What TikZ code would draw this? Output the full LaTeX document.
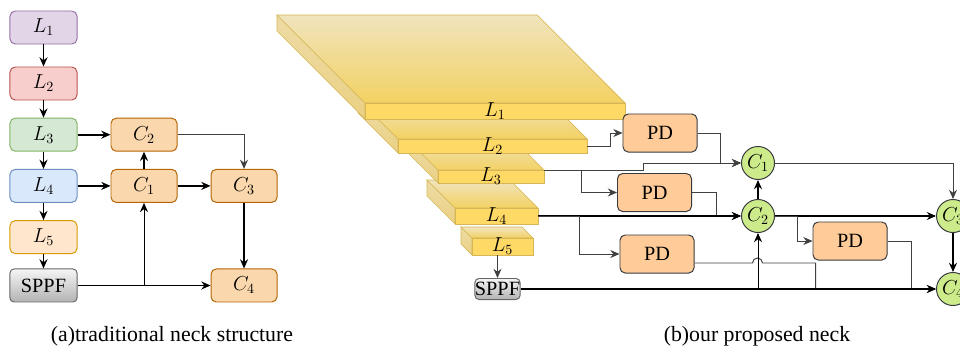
\documentclass[tikz,border=0pt]{standalone}
\usepackage[no-math]{fontspec}
\setmainfont{Liberation Serif}
\usepackage{tikz}
\usetikzlibrary{arrows.meta,positioning,calc}
\definecolor{NeckPurple}{HTML}{E1D5E7}
\definecolor{NeckPurpleLine}{HTML}{9673A6}
\definecolor{NeckRed}{HTML}{F8CECC}
\definecolor{NeckRedLine}{HTML}{B85450}
\definecolor{NeckGreen}{HTML}{D5E8D4}
\definecolor{NeckGreenLine}{HTML}{82B366}
\definecolor{NeckBlue}{HTML}{DAE8FC}
\definecolor{NeckBlueLine}{HTML}{6C8EBF}
\definecolor{NeckCream}{HTML}{FFE6CC}
\definecolor{NeckCreamLine}{HTML}{D79B00}
\definecolor{NeckOrange}{HTML}{FAD7AC}
\definecolor{NeckOrangeLine}{HTML}{B46504}
\definecolor{NeckPeach}{HTML}{FFCC99}
\definecolor{NeckLime}{HTML}{CDEB8B}
\definecolor{NeckDark}{HTML}{36393D}
\definecolor{SlabLight}{HTML}{F0E4BD}
\definecolor{SlabDeep}{HTML}{F3D163}
\definecolor{SlabFront}{HTML}{FFD966}
\definecolor{SlabSide}{HTML}{EAD083}
\definecolor{SlabEdge}{HTML}{D6B656}
\tikzset{
  layerbox/.style={rounded corners=1.3mm, line width=0.7pt, align=center,
    minimum width=16.75mm, minimum height=8.25mm},
  catbox/.style={layerbox, draw=NeckOrangeLine, fill=NeckOrange, minimum width=16.5mm},
  sppfbox/.style={rounded corners=1mm, line width=0.7pt, draw=black!60,
    top color=black!4, bottom color=black!30, align=center},
  pdbox/.style={draw=NeckDark, line width=0.7pt, rounded corners=1.3mm, fill=NeckPeach,
    minimum width=18.5mm, minimum height=9.5mm},
  catnode/.style={circle, draw=NeckDark, line width=0.7pt, fill=NeckLime,
    minimum size=8.25mm, inner sep=0pt},
  slabtop/.style={draw=SlabEdge, line width=0.5pt, top color=SlabLight, bottom color=SlabDeep},
  slabside/.style={draw=SlabEdge, line width=0.5pt, top color=SlabLight!60!SlabSide, bottom color=SlabSide},
  slabfront/.style={draw=SlabEdge, line width=0.5pt, fill=SlabFront},
  slablabel/.style={inner sep=0pt},
  wire/.style={-{Stealth[length=2.3mm, width=2mm]}, line width=1.4pt},
  thinwire/.style={-{Stealth[length=2.3mm, width=2mm]}, line width=0.7pt, draw=black!75},
  plainwire/.style={line width=0.7pt, draw=black!75},
  caption/.style={font=\fontsize{15.5}{18}\selectfont}
}
% one feature map: front face, top face and left side, seen from above
\newcommand{\featslab}[7]{%
  \coordinate (#1-ftl) at (#2,#4);
  \coordinate (#1-ftr) at (#3,#4);
  \coordinate (#1-fbr) at (#3,#4+#5);
  \coordinate (#1-fbl) at (#2,#4+#5);
  \path[slabside] (#1-ftl) -- ++(-#6,-#6) -- ++(0,#5) -- (#1-fbl) -- cycle;
  \path[slabtop] (#1-ftl) -- ++(-#6,-#6) -- ++(#3-#2,0) -- (#1-ftr) -- cycle;
  \path[slabfront] (#1-ftl) rectangle (#1-fbr);
  \node[slablabel] (#1) at ({(#2+#3)/2},#4+#5/2) {#7};
  \coordinate (#1-e) at (#3,#4+#5/2);
  \coordinate (#1-s) at ({(#2+#3)/2},#4+#5);
}

\begin{document}
\begin{tikzpicture}[x=0.025cm, y=-0.025cm, node distance=4.3mm,
    font=\fontsize{14.4}{17}\selectfont]
  \useasboundingbox (0,0) rectangle (960,350);

  % (a) traditional neck
  \node[layerbox, draw=NeckPurpleLine, fill=NeckPurple] (L1) at (43.5,27.5) {$L_1$};
  \node[layerbox, draw=NeckRedLine, fill=NeckRed, below=5.5mm of L1] (L2) {$L_2$};
  \node[layerbox, draw=NeckGreenLine, fill=NeckGreen, below=of L2] (L3) {$L_3$};
  \node[layerbox, draw=NeckBlueLine, fill=NeckBlue, below=of L3] (L4) {$L_4$};
  \node[layerbox, draw=NeckCreamLine, fill=NeckCream, below=of L4] (L5) {$L_5$};
  \node[layerbox, sppfbox, below=3.6mm of L5] (S) {SPPF};
  \node[catbox, right=8.25mm of L3] (C2) {$C_2$};
  \node[catbox, right=8.25mm of L4] (C1) {$C_1$};
  \node[catbox, right=8.25mm of C1] (C3) {$C_3$};
  \node[catbox] (C4) at (C3 |- S) {$C_4$};

  \draw[wire] (L1) -- (L2);
  \draw[wire] (L2) -- (L3);
  \draw[wire] (L3) -- (L4);
  \draw[wire] (L4) -- (L5);
  \draw[wire] (L5) -- (S);
  \draw[wire] (L3) -- (C2);
  \draw[wire] (L4) -- (C1);
  \draw[wire] (C1) -- (C2);
  \draw[wire] (C1) -- (C3);
  \draw[thinwire] (C2) -| (C3);
  \draw[wire] (C3) -- (C4);
  \draw[wire] (S) -- (C4);
  \draw[thinwire, draw=black] (C1 |- S) -- (C1);

  % (b) proposed neck
  \featslab{l5}{472}{533}{238}{17}{11}{$L_5$}
  \featslab{l4}{455}{538}{208}{16}{28}{$L_4$}
  \featslab{l3}{438}{544}{170}{13}{30}{$L_3$}
  \featslab{l2}{398}{587}{139}{14}{40}{$L_2$}
  \featslab{l1}{365}{625}{103}{16}{88}{$L_1$}

  \node[sppfbox, minimum width=11.25mm, minimum height=5.25mm, inner sep=0pt] (sppf) at (497.5,289) {SPPF};
  \node[pdbox] (pd1) at (660,133) {PD};
  \node[pdbox] (pd2) at (654.5,192.5) {PD};
  \node[pdbox] (pd3) at (657,254) {PD};
  \node[pdbox] (pd4) at (850,241) {PD};
  \node[catnode] (c1) at (758,163) {$C_1$};
  \node[catnode] (c2) at (758,216) {$C_2$};
  \node[catnode] (c3) at (953,216) {$C_3$};
  \node[catnode] (c4) at (953,289) {$C_4$};

  \draw[thinwire] (sppf |- l5-s) -- (sppf);
  \draw[thinwire] (l2-e) -- ++(23,0) |- (pd1);
  \draw[thinwire] (pd1.east) -- ++(23,0) |- (c1);
  \draw[thinwire] (l3-ftr) -- ++(99,0) |- (c1);
  \draw[thinwire] (l3-ftr) -- ++(37,0) |- (pd2);
  \draw[thinwire] (pd2.east) -- ++(24,0) |- (c2);
  \draw[wire, line width=1pt] (l4-e) -- (c2);
  \draw[thinwire] (l4-e) -- ++(41,0) |- (pd3);
  \draw[plainwire] ($(pd3.east)+(0,9)$) -- ++(58,0)
    arc[start angle=180, end angle=360, radius=5] -- ++(53,0) -- ++(0,26);
  \draw[thinwire] (pd4.east) -- ++(24,0) |- (c4);
  \draw[wire] (sppf) -- (c4);
  \draw[thinwire, draw=black] (c2 |- sppf) -- (c2);
  \draw[wire] (c2) -- (c1);
  \draw[wire] (c2) -- (c3);
  \draw[thinwire] (c2.east) -- ++(22,0) |- (pd4);
  \draw[thinwire] (c1) -| (c3);
  \draw[wire] (c3) -- (c4);

  \node[caption] (capa) at (172,336) {(a)traditional neck structure};
  \node[caption] (capb) at (757,336) {(b)our proposed neck};
\end{tikzpicture}
\end{document}
